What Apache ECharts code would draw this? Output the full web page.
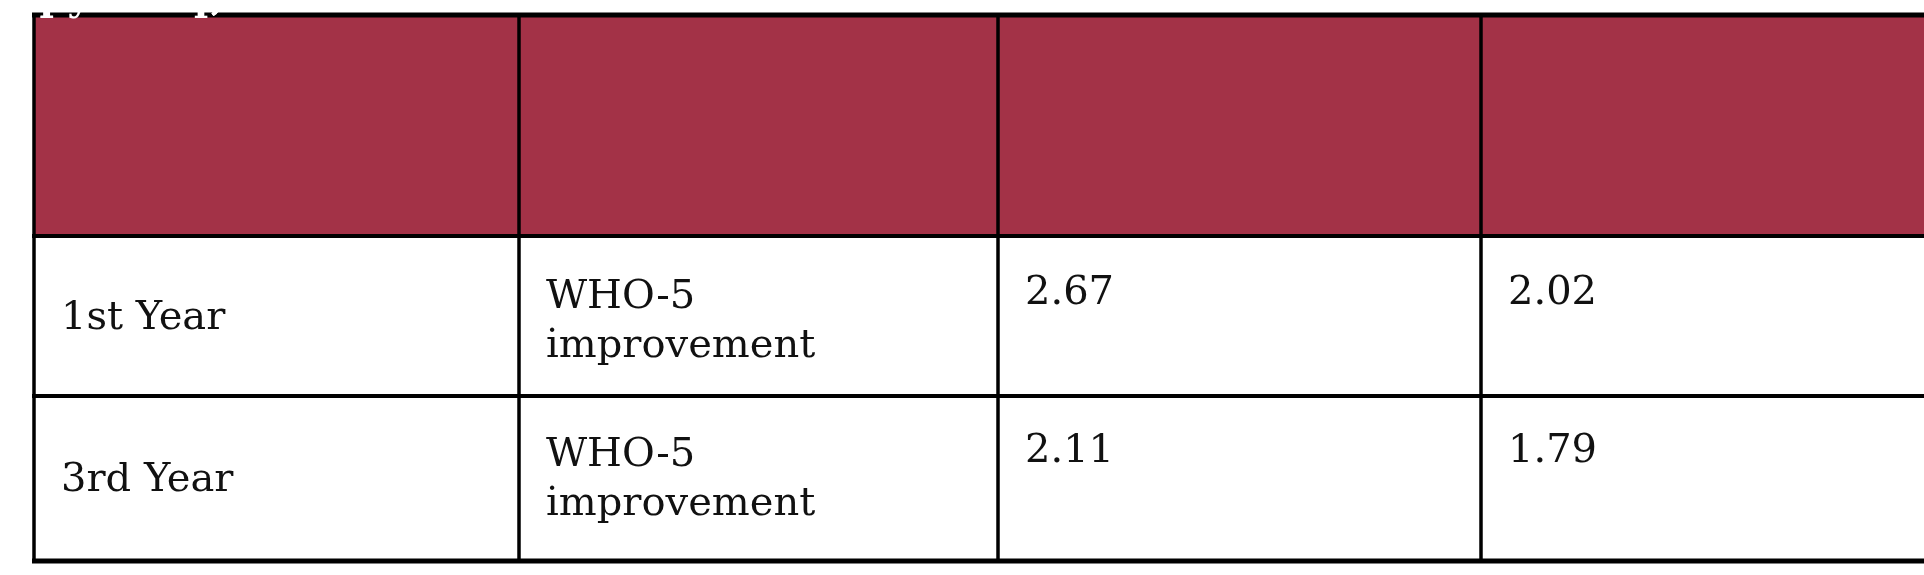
<!DOCTYPE html>
<html>
<head>
<meta charset="utf-8">
<script src="https://cdn.jsdelivr.net/npm/echarts@6/dist/echarts.min.js"></script>
<style>html,body{margin:0;padding:0;background:#fff}#main{width:1924px;height:575px}</style>
</head>
<body>
<div id="main"></div>
<script>
// table content
var headers = [['Year of Operation'], ['Unit'], ['$ per unit, total', 'costs'], ['$ per unit,', 'intervention costs', 'only']]
var years = ['1st Year', '3rd Year']
var units = [['WHO-5', 'improvement'], ['WHO-5', 'improvement']]
var totalCosts = ['2.67', '2.11']
var interventionCosts = ['2.02', '1.79']

var colX = [34, 519, 998, 1481, 1930]
var rowY = [15, 236, 396, 561]
var padX = 27
var lineH = 57
var font = '"DejaVu Serif", serif'

var chart = echarts.init(document.getElementById('main'))
var els = []

function txt(x, y, s, color, bold) {
    els.push({
        type: 'text', x: x, y: y, z: 10,
        style: {text: s, fill: color, fontFamily: font, fontSize: bold ? 38 : 40,
            fontWeight: bold ? 'bold' : 'normal', verticalAlign: 'middle', align: 'left'}
    })
}

// header background
els.push({type: 'rect', z: 1, shape: {x: colX[0], y: rowY[0], width: colX[4] - colX[0], height: rowY[1] - rowY[0]}, style: {fill: '#A33247'}})

// header text
for (var c = 0; c < headers.length; c++) {
    var top = c == 0 ? 47 : 70
    for (var l = 0; l < headers[c].length; l++) {
        txt(colX[c] + padX, top + l * lineH, headers[c][l], '#fff', true)
    }
}

// body rows
var yearY = [319, 481]
var firstLine = [298, 456]
for (var r = 0; r < years.length; r++) {
    txt(colX[0] + padX, yearY[r], years[r], '#111')
    for (var l = 0; l < units[r].length; l++) {
        txt(colX[1] + padX, firstLine[r] + l * 49, units[r][l], '#111')
    }
    txt(colX[2] + padX, firstLine[r] - 4, totalCosts[r], '#111')
    txt(colX[3] + padX, firstLine[r] - 4, interventionCosts[r], '#111')
}

// grid lines
for (var i = 0; i < rowY.length; i++) {
    els.push({type: 'line', z: 5, shape: {x1: colX[0] - 2, y1: rowY[i], x2: colX[4], y2: rowY[i]}, style: {stroke: '#000', lineWidth: i == 0 || i == rowY.length - 1 ? 5 : 4}})
}
for (var i = 0; i < 4; i++) {
    els.push({type: 'line', z: 5, shape: {x1: colX[i], y1: rowY[0], x2: colX[i], y2: rowY[rowY.length - 1]}, style: {stroke: '#000', lineWidth: 3.5}})
}

chart.setOption({animation: false, graphic: {elements: els}})
</script>
</body>
</html>
